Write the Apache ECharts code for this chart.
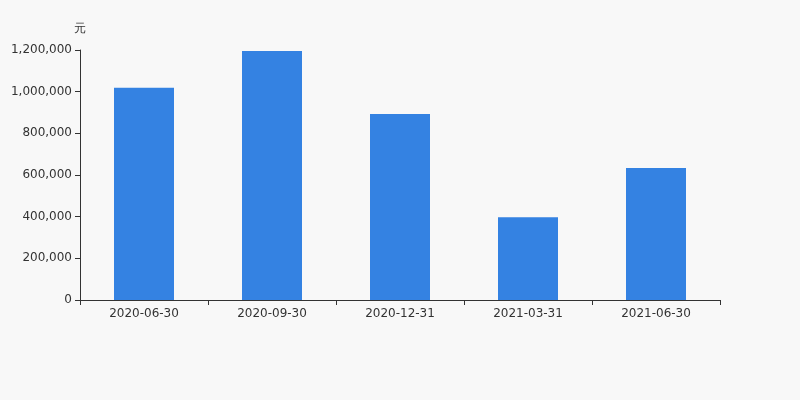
<!DOCTYPE html>
<html>
<head>
<meta charset="utf-8">
<script src="https://cdn.jsdelivr.net/npm/echarts@6/dist/echarts.min.js"></script>
<style>
html,body{margin:0;padding:0;background:#f8f8f8;}
#main{width:800px;height:400px;}
</style>
</head>
<body>
<div id="main"></div>
<script>
var categories = ['2020-06-30', '2020-09-30', '2020-12-31', '2021-03-31', '2021-06-30'];
var values = [1019000, 1195000, 893000, 397000, 633500];
var unitName = '元';

var chart = echarts.init(document.getElementById('main'), null, {renderer: 'canvas'});
chart.setOption({
  backgroundColor: '#f8f8f8',
  animation: false,
  textStyle: {fontFamily: 'DejaVu Sans'},
  grid: {left: 80, right: 80, top: 50, bottom: 100},
  xAxis: {
    type: 'category',
    data: categories,
    axisLine: {lineStyle: {color: '#333'}},
    axisTick: {show: true, alignWithLabel: false, lineStyle: {color: '#333'}},
    axisLabel: {color: '#333', fontSize: 12, margin: 8, fontFamily: 'DejaVu Sans'}
  },
  yAxis: {
    type: 'value',
    name: unitName,
    nameGap: 15,
    nameTextStyle: {color: '#333', fontSize: 12, align: 'center', fontFamily: 'DejaVu Sans'},
    min: 0,
    max: 1200000,
    interval: 200000,
    axisLine: {show: true, lineStyle: {color: '#333'}},
    axisTick: {show: true, lineStyle: {color: '#333'}},
    splitLine: {show: false},
    axisLabel: {
      color: '#333', fontSize: 12, fontFamily: 'DejaVu Sans',
      formatter: function (v) { return v.toLocaleString('en-US'); }
    }
  },
  series: [{
    type: 'bar',
    data: values,
    barWidth: 60,
    itemStyle: {color: '#3482e2'}
  }]
});
</script>
</body>
</html>
